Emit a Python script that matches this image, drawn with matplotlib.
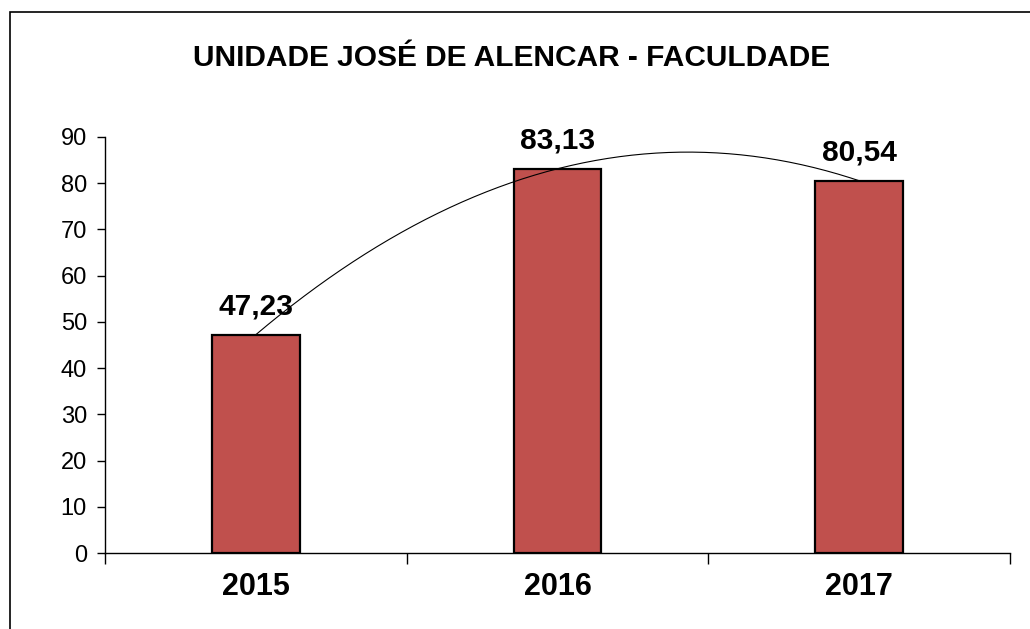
import numpy as np
import matplotlib
matplotlib.use("Agg")
import matplotlib.pyplot as plt
from matplotlib.patches import Rectangle

plt.rcParams['font.family'] = ['Liberation Sans', 'DejaVu Sans']

title = "UNIDADE JOSÉ DE ALENCAR - FACULDADE"
categories = ["2015", "2016", "2017"]
values = [47.23, 83.13, 80.54]
value_labels = ["47,23", "83,13", "80,54"]
yticks = [0, 10, 20, 30, 40, 50, 60, 70, 80, 90]

W, H = 1030, 629
fig = plt.figure(figsize=(W / 100, H / 100), dpi=100)
fig.patch.set_facecolor("white")

# outer frame (extends beyond right/bottom)
fig.patches.append(Rectangle((10 / W, -0.1), 1.2, 1 - 12 / H + 0.1,
                             transform=fig.transFigure, fill=False,
                             edgecolor="black", linewidth=1.2))

ax = fig.add_axes([105 / W, 1 - 553 / H, (1010 - 105) / W, (553 - 137) / H])
x = np.arange(len(categories))
ax.bar(x, values, width=0.29, color="#C0504D", edgecolor="black", linewidth=1.6, zorder=2)

# polynomial (order 2) trendline
coef = np.polyfit(x, values, 2)
xs = np.linspace(0, 2, 200)
ax.plot(xs, np.polyval(coef, xs), color="black", linewidth=0.8, zorder=3)

for xi, v, lab in zip(x, values, value_labels):
    ax.annotate(lab, (xi, v), xytext=(0, 10), textcoords="offset points",
                ha="center", va="bottom", fontsize=21.5, fontweight="bold")

ax.set_xlim(-0.5, 2.5)
ax.set_ylim(0, 90)
ax.set_yticks(yticks)
ax.tick_params(axis="y", direction="out", length=6, width=1, labelsize=17, pad=7)
ax.set_xticks(x)
ax.set_xticklabels(categories, fontsize=22, fontweight="bold")
ax.tick_params(axis="x", which="major", length=0, pad=14)
ax.set_xticks([-0.5, 0.5, 1.5, 2.5], minor=True)
ax.tick_params(axis="x", which="minor", direction="out", length=8, width=1)
for s in ["top", "right"]:
    ax.spines[s].set_visible(False)
ax.spines["left"].set_linewidth(1)
ax.spines["bottom"].set_linewidth(1)

fig.text(512 / W, 1 - 58 / H, title, ha="center", va="center",
         fontsize=21.5, fontweight="bold")

fig.savefig("out.png", dpi=100)
